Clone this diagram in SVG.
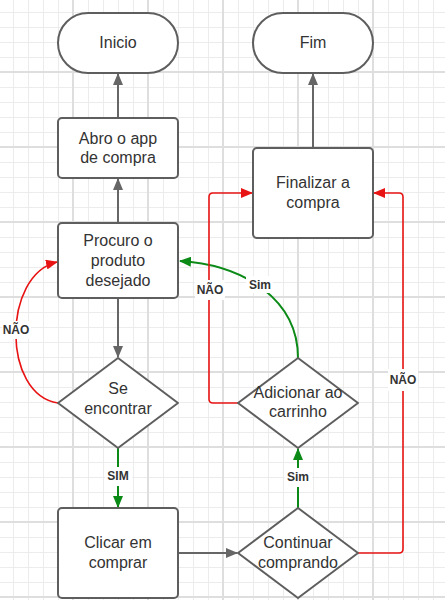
<svg xmlns="http://www.w3.org/2000/svg" width="445" height="600" viewBox="0 0 445 600">
<style>
.box{fill:#fff;stroke:#5e5e5e;stroke-width:2}
.t{font-family:"Liberation Sans",Arial,sans-serif;font-size:16px;fill:#333;text-anchor:middle}
.lb{font-family:"Liberation Sans",Arial,sans-serif;font-size:12px;font-weight:bold;fill:#333;text-anchor:middle}
.bg{fill:#fff}
.g{fill:none;stroke:#666;stroke-width:2}
.r{fill:none;stroke:#e81313;stroke-width:1.6}
.gr{fill:none;stroke:#0b8a17;stroke-width:2}
</style>
<defs>
<pattern id="minor" x="13" y="12" width="15" height="15" patternUnits="userSpaceOnUse">
<path d="M0.5 0V15M0 0.5H15" stroke="#ececec" stroke-width="1" fill="none"/>
</pattern>
<pattern id="major" x="72" y="71" width="75" height="75" patternUnits="userSpaceOnUse">
<path d="M1 0V75M0 1H75" stroke="#dedede" stroke-width="2" fill="none"/>
</pattern>
<marker id="ag" viewBox="0 0 12 10" refX="11" refY="5" markerWidth="12" markerHeight="10" markerUnits="userSpaceOnUse" orient="auto"><path d="M0 0L12 5L0 10z" fill="#666"/></marker>
<marker id="ar" viewBox="0 0 12 10" refX="11" refY="5" markerWidth="12" markerHeight="10" markerUnits="userSpaceOnUse" orient="auto"><path d="M0 0L12 5L0 10z" fill="#e81313"/></marker>
<marker id="agr" viewBox="0 0 12 10" refX="11" refY="5" markerWidth="12" markerHeight="10" markerUnits="userSpaceOnUse" orient="auto"><path d="M0 0L12 5L0 10z" fill="#0b8a17"/></marker>
</defs>
<rect width="445" height="600" fill="#fff"/>
<rect width="445" height="600" fill="url(#minor)"/>
<rect width="445" height="600" fill="url(#major)"/>

<g id="connectors">
<path class="g" d="M118 118V74" marker-end="url(#ag)"/>
<path class="g" d="M118 223V179" marker-end="url(#ag)"/>
<path class="g" d="M313 148V74" marker-end="url(#ag)"/>
<path class="g" d="M118 298V357" marker-end="url(#ag)"/>
<path class="g" d="M178 553H237" marker-end="url(#ag)"/>
<path class="gr" d="M118 448V507" marker-end="url(#agr)"/>
<path class="gr" d="M298 508V449" marker-end="url(#agr)"/>
<path class="gr" d="M298 358C298 300 245 265 180 261" marker-end="url(#agr)"/>
<path class="r" d="M58 403C2 395 2 275 57 262" marker-end="url(#ar)"/>
<path class="r" d="M358 553H399Q403 553 403 549V197Q403 193 399 193H374" marker-end="url(#ar)"/>
<path class="r" d="M238 403H213Q209 403 209 399V197Q209 193 213 193H252" marker-end="url(#ar)"/>
<rect class="bg" x="2" y="321" width="29" height="18"/>
<text class="lb" x="16" y="334">NÃO</text>
<rect class="bg" x="195" y="280" width="30" height="20"/>
<text class="lb" x="210" y="294">NÃO</text>
<rect class="bg" x="388" y="369" width="30" height="22"/>
<text class="lb" x="403" y="384">NÃO</text>
<rect class="bg" x="246" y="276" width="27" height="17"/>
<text class="lb" x="260" y="288.5">Sim</text>
<rect class="bg" x="105" y="467" width="27" height="19"/>
<text class="lb" x="118" y="480">SIM</text>
<rect class="bg" x="285" y="468" width="27" height="19"/>
<text class="lb" x="298" y="481">Sim</text>
</g>

<g id="inicio">
<rect class="box" x="58" y="13" width="120" height="60" rx="30"/>
<text class="t" x="118" y="47.5">Inicio</text>
</g>
<g id="fim">
<rect class="box" x="253" y="13" width="120" height="60" rx="30"/>
<text class="t" x="313" y="47.5">Fim</text>
</g>
<g id="abro">
<rect class="box" x="58" y="118" width="120" height="60" rx="4"/>
<text class="t" x="118" y="143.5">Abro o app</text>
<text class="t" x="118" y="162.5">de compra</text>
</g>
<g id="finalizar">
<rect class="box" x="253" y="148" width="120" height="90" rx="4"/>
<text class="t" x="313" y="187.5">Finalizar a</text>
<text class="t" x="313" y="207.5">compra</text>
</g>
<g id="procuro">
<rect class="box" x="58" y="223" width="120" height="75" rx="4"/>
<text class="t" x="118" y="246">Procuro o</text>
<text class="t" x="118" y="266">produto</text>
<text class="t" x="118" y="286">desejado</text>
</g>
<g id="seencontrar">
<path class="box" d="M118 358L178 403L118 448L58 403Z" stroke-linejoin="round"/>
<text class="t" x="118" y="394">Se</text>
<text class="t" x="118" y="414">encontrar</text>
</g>
<g id="adicionar">
<path class="box" d="M298 358L358 403L298 448L238 403Z" stroke-linejoin="round"/>
<text class="t" x="298" y="397.5">Adicionar ao</text>
<text class="t" x="298" y="416.5">carrinho</text>
</g>
<g id="clicar">
<rect class="box" x="58" y="508" width="120" height="90" rx="4"/>
<text class="t" x="118" y="547.5">Clicar em</text>
<text class="t" x="118" y="567.5">comprar</text>
</g>
<g id="continuar">
<path class="box" d="M298 508L358 553L298 598L238 553Z" stroke-linejoin="round"/>
<text class="t" x="298" y="547.5">Continuar</text>
<text class="t" x="298" y="567.5">comprando</text>
</g>
</svg>
